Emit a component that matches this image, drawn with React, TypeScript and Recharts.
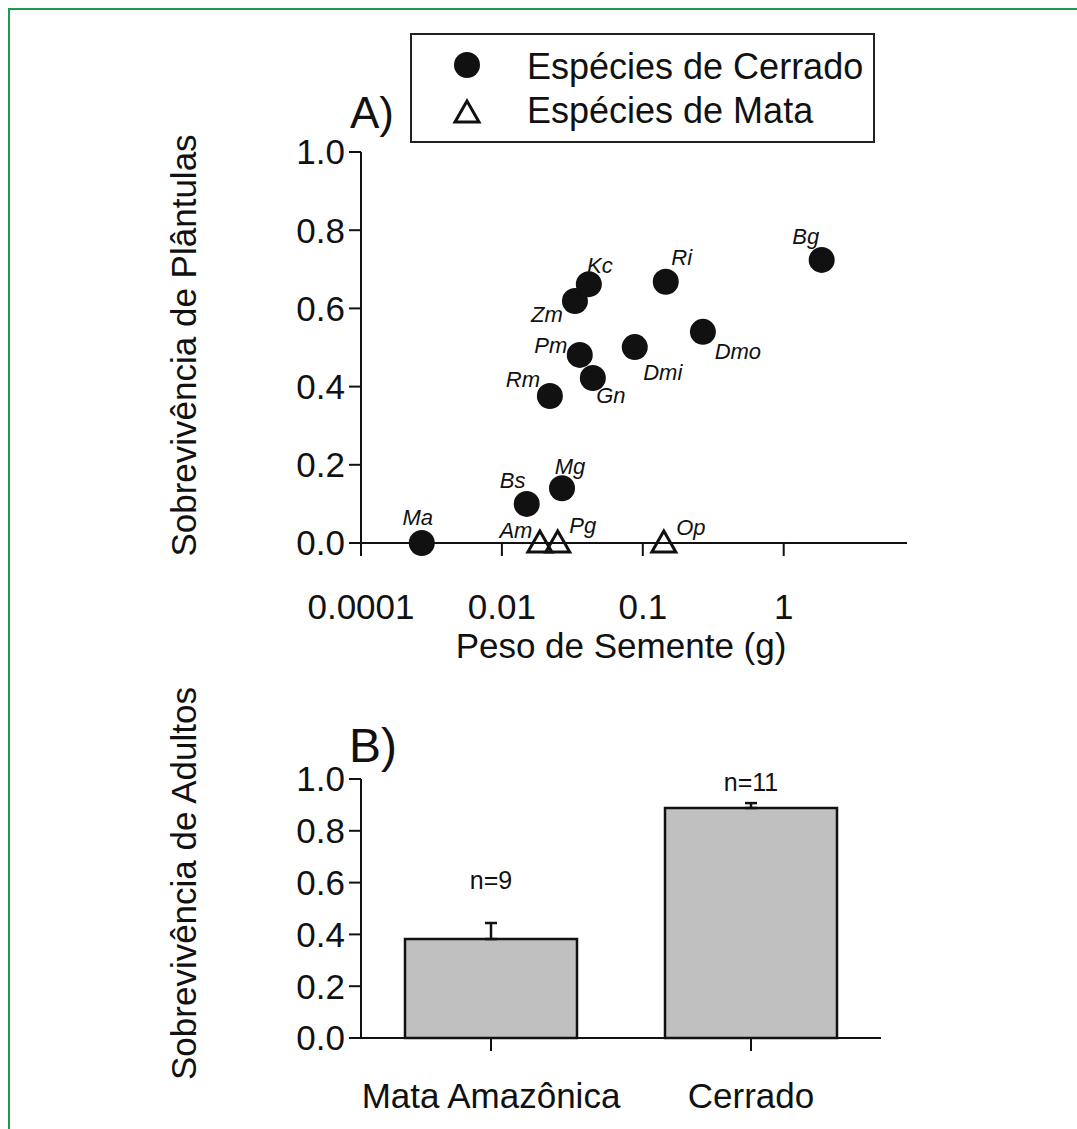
import React from 'react';
import {
  ScatterChart,
  Scatter,
  BarChart,
  Bar,
  ErrorBar,
  LabelList,
  XAxis,
  YAxis,
  Legend,
} from 'recharts';

// A) seedling survival vs seed weight
const CERRADO_SPECIES = ['Ma', 'Bs', 'Mg', 'Rm', 'Gn', 'Pm', 'Zm', 'Kc', 'Dmi', 'Ri', 'Dmo', 'Bg'];
const CERRADO_SEED_WEIGHT = [0.0027, 0.015, 0.0267, 0.0219, 0.0442, 0.0357, 0.033, 0.0414, 0.0877, 0.1455, 0.267, 1.86];
const CERRADO_SURVIVAL = [0, 0.1, 0.14, 0.376, 0.422, 0.481, 0.619, 0.662, 0.501, 0.668, 0.54, 0.724];

const MATA_SPECIES = ['Am', 'Pg', 'Op'];
const MATA_SEED_WEIGHT = [0.0186, 0.0249, 0.141];
const MATA_SURVIVAL = [0, 0, 0];

const X_TICKS = [0.001, 0.01, 0.1, 1];
const X_TICK_LABELS = ['0.0001', '0.01', '0.1', '1'];
const Y_TICKS = [0, 0.2, 0.4, 0.6, 0.8, 1.0];

// B) adult survival
const HABITATS = ['Mata Amazônica', 'Cerrado'];
const ADULT_SURVIVAL = [0.382, 0.888];
const ADULT_SE = [0.062, 0.019];
const SAMPLE_LABELS = ['n=9', 'n=11'];

// where each species tag sits relative to its marker (px)
const TAG_OFFSET: Record<string, [number, number]> = {
  Ma: [-4, -26], Bs: [-14, -23], Mg: [8, -22], Rm: [-27, -16], Gn: [18, 18],
  Pm: [-29, -9], Zm: [-28, 14], Kc: [11, -19], Dmi: [28, 25], Ri: [16, -24],
  Dmo: [35, 20], Bg: [-16, -23], Am: [-24, -13], Pg: [25, -18], Op: [27, -16],
};
const N_LABEL_LIFT = [59, 26];

const FONT = '"Liberation Sans", Arial, sans-serif';
const INK = '#111';

const cerradoData = CERRADO_SPECIES.map((sp, i) => ({ sp, w: CERRADO_SEED_WEIGHT[i], s: CERRADO_SURVIVAL[i] }));
const mataData = MATA_SPECIES.map((sp, i) => ({ sp, w: MATA_SEED_WEIGHT[i], s: MATA_SURVIVAL[i] }));
const barData = HABITATS.map((h, i) => ({ h, v: ADULT_SURVIVAL[i], err: [0, ADULT_SE[i]], n: SAMPLE_LABELS[i] }));

const Tag = ({ cx, cy, sp }: any) => {
  const [dx, dy] = TAG_OFFSET[sp] || [0, -20];
  return (
    <text x={cx + dx} y={cy + dy} textAnchor="middle" dominantBaseline="central"
      fontSize={22} fontStyle="italic" fill={INK} fontFamily={FONT}>{sp}</text>
  );
};

const CircleDot = (p: any) => (
  <g>
    <circle cx={p.cx} cy={p.cy} r={13} fill={INK} />
    <Tag cx={p.cx} cy={p.cy} sp={p.payload.sp} />
  </g>
);

const TriangleDot = (p: any) => (
  <g>
    <polygon points={`${p.cx},${p.cy - 12} ${p.cx - 12},${p.cy + 9} ${p.cx + 12},${p.cy + 9}`}
      fill="none" stroke={INK} strokeWidth={3} />
    <Tag cx={p.cx} cy={p.cy} sp={p.payload.sp} />
  </g>
);

const yTitle = (text: string, dy: number) => (props: any) => {
  const vb = props.viewBox;
  const x = vb.x + vb.width - 178;
  const y = vb.y + vb.height / 2 + dy;
  return (
    <text x={x} y={y} transform={`rotate(-90 ${x} ${y})`} textAnchor="middle" dominantBaseline="central"
      fontSize={35} fill={INK} fontFamily={FONT}>{text}</text>
  );
};

const xTitle = (text: string, dx: number, y: number) => (props: any) => {
  const vb = props.viewBox;
  return (
    <text x={vb.x + vb.width / 2 + dx} y={vb.y + y} textAnchor="middle" dominantBaseline="central"
      fontSize={35} fill={INK} fontFamily={FONT}>{text}</text>
  );
};

const LegendBox = () => (
  <div style={{ width: 461, height: 106, border: '2px solid #222', background: '#fff', position: 'relative', fontFamily: FONT, color: INK }}>
    <svg width={60} height={106} style={{ position: 'absolute', left: 38, top: 0 }}>
      <circle cx={17} cy={30} r={13} fill={INK} />
      <polygon points="17,66 5,87 29,87" fill="none" stroke={INK} strokeWidth={3} />
    </svg>
    <div style={{ position: 'absolute', left: 115, top: 10, fontSize: 36, lineHeight: '44px', whiteSpace: 'nowrap' }}>
      Espécies de Cerrado<br />Espécies de Mata
    </div>
  </div>
);

const NLabel = (p: any) => {
  const i = p.index;
  return (
    <text x={p.x + p.width / 2} y={p.y - N_LABEL_LIFT[i]} textAnchor="middle" dominantBaseline="central"
      fontSize={25} fill={INK} fontFamily={FONT}>{SAMPLE_LABELS[i]}</text>
  );
};

const axisStyle = { stroke: INK, strokeWidth: 2 };
const tickStyle = { fill: INK, fontSize: 35, fontFamily: FONT };
const panelTag = { position: 'absolute' as const, fontFamily: FONT, color: INK, lineHeight: '48px' };

export default function App() {
  return (
    <div style={{ position: 'absolute', left: 0, top: 0, width: 1077, height: 1129, background: '#fff', overflow: 'hidden' }}>
      <div style={{ position: 'absolute', left: 8, top: 8, width: 1100, height: 1200, borderLeft: '2px solid #1b9a50', borderTop: '2px solid #1b9a50' }} />

      <div style={{ position: 'absolute', left: 0, top: 0 }}>
        <ScatterChart width={1077} height={700} margin={{ top: 152, right: 170, bottom: 87, left: 281 }}>
          <XAxis type="number" dataKey="w" scale="log" domain={[0.001, 7.5]} allowDataOverflow
            ticks={X_TICKS} interval={0} tickFormatter={(v: number) => X_TICK_LABELS[X_TICKS.indexOf(v)]}
            height={70} tickSize={13} tickMargin={38} axisLine={axisStyle} tickLine={axisStyle} tick={tickStyle}
            label={{ content: xTitle('Peso de Semente (g)', -13, 102) }} />
          <YAxis type="number" dataKey="s" domain={[0, 1]} ticks={Y_TICKS} interval={0}
            tickFormatter={(v: number) => v.toFixed(1)}
            width={80} tickSize={12} tickMargin={4} axisLine={axisStyle} tickLine={axisStyle} tick={tickStyle}
            label={{ content: yTitle('Sobrevivência de Plântulas', -2) }} />
          <Scatter name="Espécies de Cerrado" data={cerradoData} shape={CircleDot} isAnimationActive={false} />
          <Scatter name="Espécies de Mata" data={mataData} shape={TriangleDot} isAnimationActive={false} />
          <Legend layout="horizontal" verticalAlign="middle" align="center" content={() => <LegendBox />}
            wrapperStyle={{ left: 410, top: 33, width: 465, height: 110 }} />
        </ScatterChart>
      </div>
      <div style={{ ...panelTag, fontSize: 44, left: 350, top: 89 }}>A)</div>

      <div style={{ position: 'absolute', left: 0, top: 640 }}>
        <BarChart width={1077} height={489} data={barData} margin={{ top: 139, right: 196, bottom: 21, left: 281 }} barSize={172}>
          <XAxis dataKey="h" height={70} tickSize={13} tickMargin={32} interval={0}
            axisLine={axisStyle} tickLine={axisStyle} tick={tickStyle} />
          <YAxis type="number" domain={[0, 1]} ticks={Y_TICKS} interval={0}
            tickFormatter={(v: number) => v.toFixed(1)}
            width={80} tickSize={12} tickMargin={4} axisLine={axisStyle} tickLine={axisStyle} tick={tickStyle}
            label={{ content: yTitle('Sobrevivência de Adultos', -25) }} />
          <Bar dataKey="v" fill="#c0c0c0" stroke={INK} strokeWidth={2.5} isAnimationActive={false}>
            <ErrorBar dataKey="err" direction="y" width={6} stroke={INK} strokeWidth={2.5} />
            <LabelList dataKey="n" content={NLabel} />
          </Bar>
        </BarChart>
      </div>
      <div style={{ ...panelTag, fontSize: 48, left: 349, top: 722 }}>B)</div>
    </div>
  );
}
